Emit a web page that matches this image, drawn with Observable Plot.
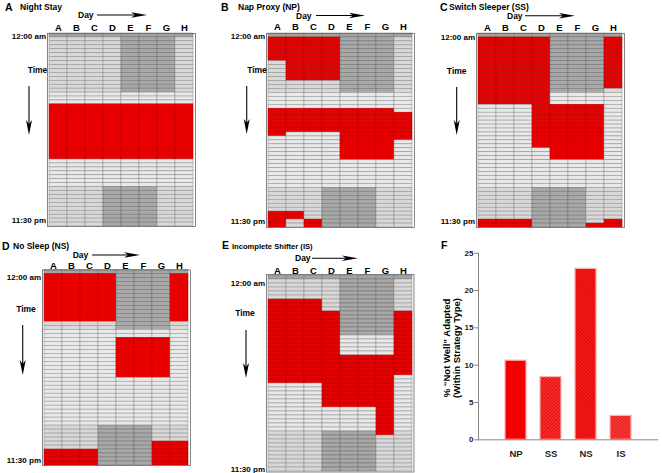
<!DOCTYPE html>
<html><head><meta charset="utf-8">
<script src="https://cdn.jsdelivr.net/npm/d3@7"></script>
<script src="https://cdn.jsdelivr.net/npm/@observablehq/plot@0.6"></script>
<style>
body{margin:0;background:#fff;}
#fig{position:relative;width:662px;height:473px;overflow:hidden;background:#fff;font-family:"Liberation Sans",Arial,sans-serif;}
#fig svg{position:absolute;}
</style></head><body><div id="fig"></div>
<script>
// ---------- data ----------
const days = ["A","B","C","D","E","F","G","H"];
const rows = d3.range(-1, 48); // -1 = "Day X" header row; 0..47 = half-hour slots from 12:00 am
const timeTickLabels = {0: "12:00 am", 47: "11:30 pm"};
// work shift blocks (grey): [day, firstRow, endRow)
const shiftBlocks = [["E",0,14],["F",0,14],["G",0,14],["D",38,48],["E",38,48],["F",38,48]];
// sleep blocks (red): [day, firstRow, endRow)
const sleepNightStay = [["A",17,31],["B",17,31],["C",17,31],["D",17,31],["E",17,31],["F",17,31],["G",17,31],["H",17,31]];
const sleepNapProxy = [["A",0,6],["B",0,11],["C",0,11],["D",0,11],
  ["A",18,25],["B",18,24],["C",18,24],["D",18,24],["E",18,31],["F",18,31],["G",18,31],["H",19,26],
  ["A",44,48],["B",44,46],["C",46,48]];
const sleepSwitchSleeper = [["A",0,17],["B",0,17],["C",0,17],["D",0,28],["H",0,13],
  ["E",17,31],["F",17,31],["G",17,31],
  ["A",46,48],["B",46,48],["C",46,48],["G",47,48],["H",46,48]];
const sleepNoSleep = [["A",0,12],["B",0,12],["C",0,12],["D",0,12],["H",0,12],
  ["E",16,26],["F",16,26],["G",16,26],
  ["A",44,48],["B",44,48],["C",44,48],["G",42,48],["H",42,48]];
const sleepIncompleteShifter = [["A",5,26],["B",5,26],["C",5,26],["D",8,32],["E",19,32],["F",19,32],["G",19,39],["H",8,24]];

const strategies = ["NP","SS","NS","IS"];
const notWellPct = [10.6, 8.4, 22.9, 3.2];

// ---------- styles / layout ----------
const FONT = "'Liberation Sans', Arial, sans-serif";
const cellFill = {header:"#a3a3a3", sleep:"#e80000", shift:"#a8a8a8", night:"#d8d8d8", day:"#e9e9e9"};
const cellStroke = {header:"#777", sleep:"#b40000", shift:"#6e6e6e", night:"#8a8a8a", day:"#8a8a8a"};

const panels = [
  {letter:"A", title:"Night Stay", tsize:8.5, sleep:sleepNightStay, grid:[47,33,195,226], lx:5, ly:11, tx:20, ty:10,
   dayX:78, dayY:15, arrow:[97,147], colY:27, topY:36, botY:220, timeX:37.5, timeY:70, vx:29, vy:[86,135]},
  {letter:"B", title:"Nap Proxy (NP)", tsize:8.5, sleep:sleepNapProxy, grid:[266,33,414,227], lx:221, ly:11, tx:238, ty:10,
   dayX:296, dayY:15.5, arrow:[316,365], colY:26.7, topY:36, botY:220.7, timeX:257, timeY:70, vx:246.7, vy:[86,134]},
  {letter:"C", title:"Switch Sleeper (SS)", tsize:8.5, sleep:sleepSwitchSleeper, grid:[476,33,624,227], lx:440, ly:11, tx:449, ty:10,
   dayX:507, dayY:15.7, arrow:[525,575], colY:27.3, topY:36.7, botY:220.7, timeX:456.7, timeY:70.7, vx:456.7, vy:[87,135]},
  {letter:"D", title:"No Sleep (NS)", tsize:8.5, sleep:sleepNoSleep, grid:[42,269.5,190,465], lx:2, ly:249.5, tx:13, ty:249,
   dayX:72.7, dayY:255, arrow:[92,140], colY:265, topY:276.7, botY:460, timeX:26, timeY:309.3, vx:22.7, vy:[325,375]},
  {letter:"E", title:"Incomplete Shifter (IS)", tsize:7.6, sleep:sleepIncompleteShifter, grid:[266,274,413.5,471.5], lx:222, ly:249, tx:232, ty:248.5,
   dayX:295, dayY:258.3, arrow:[312,358], colY:270, topY:281.7, botY:469.3, timeX:245, timeY:313.3, vx:246, vy:[330,378]}
];

const fig = document.getElementById("fig");

function blockKeys(blocks) {
  return new Set(blocks.flatMap(([d, s, e]) => d3.range(s, e).map(r => d + r)));
}
const shiftKeys = blockKeys(shiftBlocks);

function hArrow(g, x1, x2, y) {
  g.append("line").attr("x1", x1).attr("x2", x2 - 8).attr("y1", y).attr("y2", y).attr("stroke", "#000").attr("stroke-width", 1.1);
  g.append("path").attr("d", `M${x2},${y}L${x2-16},${y-2.8}L${x2-12},${y}L${x2-16},${y+2.8}Z`).attr("fill", "#000");
}
function vArrow(g, x, y1, y2) {
  g.append("line").attr("x1", x).attr("x2", x).attr("y1", y1).attr("y2", y2 - 8).attr("stroke", "#000").attr("stroke-width", 1.1);
  g.append("path").attr("d", `M${x},${y2}L${x-3},${y2-15}L${x},${y2-11}L${x+3},${y2-15}Z`).attr("fill", "#000");
}
function label(g, x, y, text, size, anchor = "start", base = "alphabetic") {
  return g.append("text").attr("x", x).attr("y", y).attr("font-size", size).attr("font-weight", "bold")
    .attr("font-family", FONT).attr("text-anchor", anchor).attr("dominant-baseline", base).attr("fill", "#000").text(text);
}

for (const p of panels) {
  const [gl, gt, gr, gb] = p.grid;
  const sleepKeys = blockKeys(p.sleep);
  const cells = days.flatMap(d => rows.map(r => ({
    day: d, row: r,
    state: r < 0 ? "header" : sleepKeys.has(d + r) ? "sleep" : shiftKeys.has(d + r) ? "shift" : (r < 14 || r >= 38) ? "night" : "day"
  })));
  const rowH = (gb - gt) / rows.length;
  const rowCenter = r => gt + rowH * (r + 1.5);
  const plot = Plot.plot({
    width: 662, height: 473,
    marginLeft: gl, marginTop: gt, marginRight: 662 - gr, marginBottom: 473 - gb,
    style: {background: "transparent", fontFamily: FONT, overflow: "visible"},
    x: {type: "band", domain: days, padding: 0},
    y: {type: "band", domain: rows, padding: 0},
    color: {type: "identity"},
    marks: [
      Plot.cell(cells, {x: "day", y: "row", fill: d => cellFill[d.state], stroke: d => cellStroke[d.state], strokeWidth: 0.5, inset: 0}),
      Plot.frame({stroke: "#666", strokeWidth: 0.8}),
      Plot.axisX({anchor: "top", tickSize: 0, tickPadding: 0, dy: p.colY + 3.2 - gt, fontSize: 9.5, fontWeight: "bold", fill: "#000", label: null}),
      Plot.axisY({anchor: "left", ticks: [0], tickFormat: r => timeTickLabels[r], tickSize: 0, tickPadding: 1.5,
        dy: p.topY - rowCenter(0), fontSize: 8, fontWeight: "bold", fill: "#000", label: null}),
      Plot.axisY({anchor: "left", ticks: [47], tickFormat: r => timeTickLabels[r], tickSize: 0, tickPadding: 1.5,
        dy: p.botY - rowCenter(47), fontSize: 8, fontWeight: "bold", fill: "#000", label: null})
    ]
  });
  plot.style.left = "0px"; plot.style.top = "0px";
  fig.appendChild(plot);
  const g = d3.select(plot).append("g");
  label(g, p.lx, p.ly, p.letter, 10.5);
  label(g, p.tx, p.ty, p.title, p.tsize);
  label(g, p.dayX, p.dayY, "Day", 8.5, "start", "central");
  hArrow(g, p.arrow[0], p.arrow[1], p.dayY);
  label(g, p.timeX, p.timeY, "Time", 8.5, "middle", "central");
  vArrow(g, p.vx, p.vy[0], p.vy[1]);
}

// ---------- panel F: bar chart ----------
const barFill = {NP: "#f40000", SS: "url(#hatchSS)", NS: "url(#hatchNS)", IS: "url(#hatchIS)"};
const bars = strategies.map((s, i) => ({strategy: s, pct: notWellPct[i]}));
const fPlot = Plot.plot({
  width: 222, height: 243,
  marginLeft: 38, marginRight: 4, marginTop: 22.7, marginBottom: 33.7,
  style: {background: "transparent", fontFamily: FONT},
  x: {type: "band", domain: strategies, paddingInner: 0.4, paddingOuter: 0.72},
  y: {domain: [0, 25]},
  color: {type: "identity"},
  marks: [
    Plot.barY(bars, {x: "strategy", y: "pct", fill: d => barFill[d.strategy], stroke: "#ffb0b0", strokeWidth: 1.2}),
    Plot.ruleY([0], {stroke: "#888", strokeWidth: 1}),
    Plot.frame({anchor: "left", stroke: "#888", strokeWidth: 1}),
    Plot.axisY({ticks: [0, 5, 10, 15, 20, 25], tickSize: 4, tickPadding: 1, stroke: "#888", fontSize: 8, fontWeight: "bold", fill: "#222", label: null}),
    Plot.axisX({tickSize: 0, tickPadding: 10.2, fontSize: 9.5, fontWeight: "bold", fill: "#222", label: null})
  ]
});
fPlot.style.left = "440px"; fPlot.style.top = "230px";
fig.appendChild(fPlot);
const fs = d3.select(fPlot);
fs.insert("defs", ":first-child").html(`
  <pattern id="hatchSS" width="2.4" height="2.4" patternUnits="userSpaceOnUse" patternTransform="rotate(45)">
    <rect width="2.4" height="2.4" fill="#ff3535"/><line x1="0.6" y1="0" x2="0.6" y2="2.4" stroke="#d80000" stroke-width="0.9"/></pattern>
  <pattern id="hatchNS" width="2.4" height="2.4" patternUnits="userSpaceOnUse" patternTransform="rotate(-45)">
    <rect width="2.4" height="2.4" fill="#ff2020"/><line x1="0.6" y1="0" x2="0.6" y2="2.4" stroke="#cc0000" stroke-width="0.9"/></pattern>
  <pattern id="hatchIS" width="2.4" height="2.4" patternUnits="userSpaceOnUse" patternTransform="rotate(45)">
    <rect width="2.4" height="2.4" fill="#ff4040"/><line x1="0.6" y1="0" x2="0.6" y2="2.4" stroke="#dd1010" stroke-width="0.9"/></pattern>`);
const fg = fs.append("g");
label(fg, 1, 19, "F", 10.5);
label(fg, 6, 118, "% \u201CNot Well\u201D Adapted", 9.5, "middle", "central").attr("transform", "rotate(-90,6,118)");
label(fg, 16, 118, "(Within Strategy Type)", 9.5, "middle", "central").attr("transform", "rotate(-90,16,118)");
</script></body></html>
